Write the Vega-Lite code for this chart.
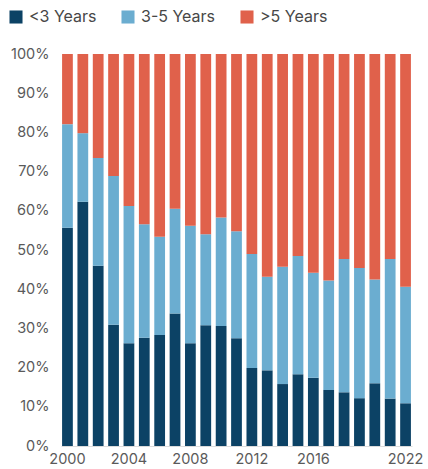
{
  "$schema": "https://vega.github.io/schema/vega-lite/v6.json",
  "width": 351,
  "height": 392,
  "autosize": "none",
  "padding": {"left": 61, "top": 54, "right": 16, "bottom": 23},
  "background": "#ffffff",
  "config": {
    "font": "Inter",
    "view": {"stroke": null},
    "axis": {"grid": false, "ticks": false, "labelFont": "Inter", "labelColor": "#5a5a5a", "labelFontSize": 14.5, "title": null},
    "legend": {"labelFont": "Inter"}
  },
  "data": {
    "values": [
      {"year": "2000", "tier": 1, "group": "<3 Years", "share": 55.7}, {"year": "2000", "tier": 2, "group": "3-5 Years", "share": 26.4}, {"year": "2000", "tier": 3, "group": ">5 Years", "share": 17.9},
      {"year": "2001", "tier": 1, "group": "<3 Years", "share": 62.3}, {"year": "2001", "tier": 2, "group": "3-5 Years", "share": 17.5}, {"year": "2001", "tier": 3, "group": ">5 Years", "share": 20.2},
      {"year": "2002", "tier": 1, "group": "<3 Years", "share": 46.0}, {"year": "2002", "tier": 2, "group": "3-5 Years", "share": 27.5}, {"year": "2002", "tier": 3, "group": ">5 Years", "share": 26.5},
      {"year": "2003", "tier": 1, "group": "<3 Years", "share": 30.9}, {"year": "2003", "tier": 2, "group": "3-5 Years", "share": 38.0}, {"year": "2003", "tier": 3, "group": ">5 Years", "share": 31.1},
      {"year": "2004", "tier": 1, "group": "<3 Years", "share": 26.2}, {"year": "2004", "tier": 2, "group": "3-5 Years", "share": 35.0}, {"year": "2004", "tier": 3, "group": ">5 Years", "share": 38.8},
      {"year": "2005", "tier": 1, "group": "<3 Years", "share": 27.6}, {"year": "2005", "tier": 2, "group": "3-5 Years", "share": 29.0}, {"year": "2005", "tier": 3, "group": ">5 Years", "share": 43.4},
      {"year": "2006", "tier": 1, "group": "<3 Years", "share": 28.3}, {"year": "2006", "tier": 2, "group": "3-5 Years", "share": 25.1}, {"year": "2006", "tier": 3, "group": ">5 Years", "share": 46.6},
      {"year": "2007", "tier": 1, "group": "<3 Years", "share": 33.8}, {"year": "2007", "tier": 2, "group": "3-5 Years", "share": 26.7}, {"year": "2007", "tier": 3, "group": ">5 Years", "share": 39.5},
      {"year": "2008", "tier": 1, "group": "<3 Years", "share": 26.2}, {"year": "2008", "tier": 2, "group": "3-5 Years", "share": 30.0}, {"year": "2008", "tier": 3, "group": ">5 Years", "share": 43.8},
      {"year": "2009", "tier": 1, "group": "<3 Years", "share": 30.8}, {"year": "2009", "tier": 2, "group": "3-5 Years", "share": 23.2}, {"year": "2009", "tier": 3, "group": ">5 Years", "share": 46.0},
      {"year": "2010", "tier": 1, "group": "<3 Years", "share": 30.6}, {"year": "2010", "tier": 2, "group": "3-5 Years", "share": 27.7}, {"year": "2010", "tier": 3, "group": ">5 Years", "share": 41.7},
      {"year": "2011", "tier": 1, "group": "<3 Years", "share": 27.5}, {"year": "2011", "tier": 2, "group": "3-5 Years", "share": 27.3}, {"year": "2011", "tier": 3, "group": ">5 Years", "share": 45.2},
      {"year": "2012", "tier": 1, "group": "<3 Years", "share": 19.9}, {"year": "2012", "tier": 2, "group": "3-5 Years", "share": 29.1}, {"year": "2012", "tier": 3, "group": ">5 Years", "share": 51.0},
      {"year": "2013", "tier": 1, "group": "<3 Years", "share": 19.3}, {"year": "2013", "tier": 2, "group": "3-5 Years", "share": 23.9}, {"year": "2013", "tier": 3, "group": ">5 Years", "share": 56.8},
      {"year": "2014", "tier": 1, "group": "<3 Years", "share": 15.8}, {"year": "2014", "tier": 2, "group": "3-5 Years", "share": 29.9}, {"year": "2014", "tier": 3, "group": ">5 Years", "share": 54.3},
      {"year": "2015", "tier": 1, "group": "<3 Years", "share": 18.3}, {"year": "2015", "tier": 2, "group": "3-5 Years", "share": 30.2}, {"year": "2015", "tier": 3, "group": ">5 Years", "share": 51.5},
      {"year": "2016", "tier": 1, "group": "<3 Years", "share": 17.4}, {"year": "2016", "tier": 2, "group": "3-5 Years", "share": 26.8}, {"year": "2016", "tier": 3, "group": ">5 Years", "share": 55.8},
      {"year": "2017", "tier": 1, "group": "<3 Years", "share": 14.3}, {"year": "2017", "tier": 2, "group": "3-5 Years", "share": 27.9}, {"year": "2017", "tier": 3, "group": ">5 Years", "share": 57.8},
      {"year": "2018", "tier": 1, "group": "<3 Years", "share": 13.7}, {"year": "2018", "tier": 2, "group": "3-5 Years", "share": 34.0}, {"year": "2018", "tier": 3, "group": ">5 Years", "share": 52.3},
      {"year": "2019", "tier": 1, "group": "<3 Years", "share": 12.2}, {"year": "2019", "tier": 2, "group": "3-5 Years", "share": 33.2}, {"year": "2019", "tier": 3, "group": ">5 Years", "share": 54.6},
      {"year": "2020", "tier": 1, "group": "<3 Years", "share": 16.0}, {"year": "2020", "tier": 2, "group": "3-5 Years", "share": 26.5}, {"year": "2020", "tier": 3, "group": ">5 Years", "share": 57.5},
      {"year": "2021", "tier": 1, "group": "<3 Years", "share": 12.1}, {"year": "2021", "tier": 2, "group": "3-5 Years", "share": 35.6}, {"year": "2021", "tier": 3, "group": ">5 Years", "share": 52.3},
      {"year": "2022", "tier": 1, "group": "<3 Years", "share": 10.9}, {"year": "2022", "tier": 2, "group": "3-5 Years", "share": 29.7}, {"year": "2022", "tier": 3, "group": ">5 Years", "share": 59.4}
    ]
  },
  "mark": {"type": "bar"},
  "encoding": {
    "x": {
      "field": "year",
      "type": "ordinal",
      "scale": {"paddingInner": 0.3, "paddingOuter": 0.07},
      "axis": {
        "values": ["2000", "2004", "2008", "2012", "2016", "2022"],
        "labelAngle": 0,
        "labelPadding": 6,
        "domain": true,
        "domainColor": "#dcdcdc",
        "domainWidth": 1
      }
    },
    "y": {
      "field": "share",
      "type": "quantitative",
      "stack": "normalize",
      "scale": {"domain": [0, 1]},
      "axis": {
        "values": [0, 0.1, 0.2, 0.3, 0.4, 0.5, 0.6, 0.7, 0.8, 0.9, 1],
        "format": ".0%",
        "domain": false,
        "labelPadding": 12
      }
    },
    "color": {
      "field": "group",
      "type": "nominal",
      "sort": ["<3 Years", "3-5 Years", ">5 Years"],
      "scale": {"domain": ["<3 Years", "3-5 Years", ">5 Years"], "range": ["#0c4265", "#6badd0", "#e0614b"]},
      "legend": {
        "title": null,
        "orient": "none",
        "direction": "horizontal",
        "legendX": -53,
        "legendY": -45,
        "symbolType": "square",
        "symbolSize": 170,
        "symbolStrokeWidth": 0,
        "labelFontSize": 16,
        "labelColor": "#474747",
        "labelOffset": 5,
        "columnPadding": 23
      }
    },
    "order": {"field": "tier", "type": "quantitative", "sort": "ascending"}
  }
}
